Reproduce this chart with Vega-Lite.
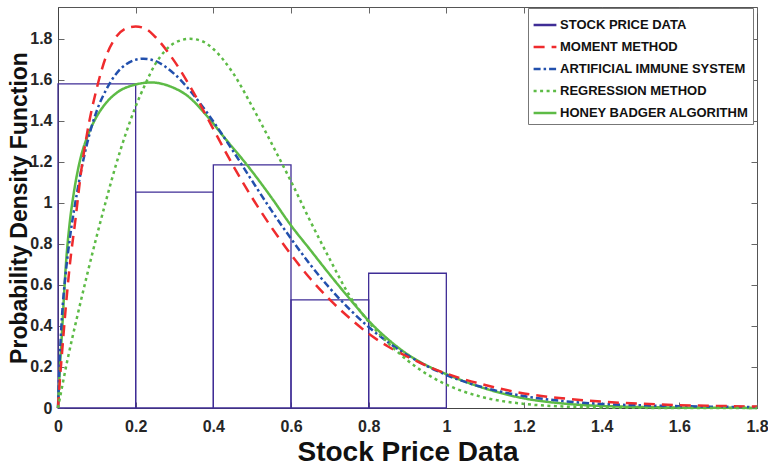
{
  "$schema": "https://vega.github.io/schema/vega-lite/v6.json",
  "width": 699,
  "height": 401,
  "autosize": {"type": "none"},
  "padding": {"left": 58, "top": 7, "right": 11, "bottom": 63},
  "background": "white",
  "config": {
    "font": "Liberation Sans, Arial",
    "view": {"stroke": "#555555", "strokeWidth": 1},
    "axis": {
      "grid": false,
      "labelFont": "Liberation Sans, Arial",
      "labelFontWeight": "bold",
      "labelFontSize": 16,
      "labelColor": "#262626",
      "domainColor": "#444444",
      "tickColor": "#666666",
      "titleColor": "#111111",
      "labelFlush": false,
      "labelOverlap": false,
      "labelBound": false
    }
  },
  "resolve": {"axis": {"x": "independent", "y": "independent"}},
  "layer": [
    {
      "data": {
        "values": [
          {"x0": 0.0, "x1": 0.2, "h": 1.58, "s": "STOCK PRICE DATA"},
          {"x0": 0.2, "x1": 0.4, "h": 1.052, "s": "STOCK PRICE DATA"},
          {"x0": 0.4, "x1": 0.6, "h": 1.185, "s": "STOCK PRICE DATA"},
          {"x0": 0.6, "x1": 0.8, "h": 0.527, "s": "STOCK PRICE DATA"},
          {"x0": 0.8, "x1": 1.0, "h": 0.657, "s": "STOCK PRICE DATA"}
        ]
      },
      "mark": {"type": "bar", "filled": false, "strokeWidth": 1.3},
      "encoding": {
        "x": {
          "field": "x0", "type": "quantitative",
          "scale": {"domain": [0, 1.8], "nice": false, "zero": false},
          "axis": {
            "orient": "bottom",
            "values": [0, 0.2, 0.4, 0.6, 0.8, 1, 1.2, 1.4, 1.6, 1.8],
            "format": ".1~f",
            "title": "Stock Price Data",
            "titleFont": "Liberation Sans, Arial",
            "titleFontSize": 28,
            "titleFontWeight": "bold",
            "titlePadding": 4,
            "tickSize": -6,
            "labelPadding": 16
          }
        },
        "x2": {"field": "x1"},
        "y": {
          "field": "h", "type": "quantitative",
          "scale": {"domain": [0, 1.955], "nice": false},
          "axis": {
            "orient": "left",
            "values": [0, 0.2, 0.4, 0.6, 0.8, 1, 1.2, 1.4, 1.6, 1.8],
            "format": ".1~f",
            "title": "Probability Density Function",
            "titleFont": "Liberation Sans, Arial",
            "titleFontSize": 23,
            "titleFontWeight": "bold",
            "titlePadding": -2,
            "tickSize": -6,
            "labelPadding": 12
          }
        },
        "y2": {"datum": 0},
        "color": {
          "field": "s", "type": "nominal",
          "scale": {
            "domain": ["STOCK PRICE DATA", "MOMENT METHOD", "ARTIFICIAL IMMUNE SYSTEM", "REGRESSION METHOD", "HONEY BADGER ALGORITHM"],
            "range": ["#3f2d96", "#ef2b2d", "#2250ad", "#5dbb46", "#5dbb46"]
          },
          "legend": {
            "orient": "none",
            "legendX": 470,
            "legendY": 1,
            "title": null,
            "symbolType": "stroke",
            "symbolSize": 520,
            "symbolStrokeWidth": 2.5,
            "labelFont": "Liberation Sans, Arial",
            "labelFontSize": 13,
            "labelFontWeight": "bold",
            "labelColor": "#111111",
            "labelOffset": 2,
            "labelLimit": 400,
            "strokeColor": "#777777",
            "fillColor": "white",
            "padding": 4,
            "rowPadding": 2
          }
        }
      }
    },
    {
      "data": {
        "values": [
          {"s": "HONEY BADGER ALGORITHM", "x": 0, "y": 0},
          {"s": "HONEY BADGER ALGORITHM", "x": 0.005, "y": 0.2},
          {"s": "HONEY BADGER ALGORITHM", "x": 0.01, "y": 0.36},
          {"s": "HONEY BADGER ALGORITHM", "x": 0.02, "y": 0.69},
          {"s": "HONEY BADGER ALGORITHM", "x": 0.03, "y": 0.9},
          {"s": "HONEY BADGER ALGORITHM", "x": 0.04, "y": 1.04},
          {"s": "HONEY BADGER ALGORITHM", "x": 0.057, "y": 1.21},
          {"s": "HONEY BADGER ALGORITHM", "x": 0.075, "y": 1.32},
          {"s": "HONEY BADGER ALGORITHM", "x": 0.095, "y": 1.405},
          {"s": "HONEY BADGER ALGORITHM", "x": 0.125, "y": 1.49},
          {"s": "HONEY BADGER ALGORITHM", "x": 0.15, "y": 1.535},
          {"s": "HONEY BADGER ALGORITHM", "x": 0.2, "y": 1.577},
          {"s": "HONEY BADGER ALGORITHM", "x": 0.24, "y": 1.587},
          {"s": "HONEY BADGER ALGORITHM", "x": 0.29, "y": 1.567},
          {"s": "HONEY BADGER ALGORITHM", "x": 0.336, "y": 1.518},
          {"s": "HONEY BADGER ALGORITHM", "x": 0.383, "y": 1.425},
          {"s": "HONEY BADGER ALGORITHM", "x": 0.43, "y": 1.315},
          {"s": "HONEY BADGER ALGORITHM", "x": 0.49, "y": 1.177},
          {"s": "HONEY BADGER ALGORITHM", "x": 0.55, "y": 1.025},
          {"s": "HONEY BADGER ALGORITHM", "x": 0.6, "y": 0.89},
          {"s": "HONEY BADGER ALGORITHM", "x": 0.65, "y": 0.77},
          {"s": "HONEY BADGER ALGORITHM", "x": 0.7, "y": 0.65},
          {"s": "HONEY BADGER ALGORITHM", "x": 0.75, "y": 0.535},
          {"s": "HONEY BADGER ALGORITHM", "x": 0.8, "y": 0.425},
          {"s": "HONEY BADGER ALGORITHM", "x": 0.85, "y": 0.335},
          {"s": "HONEY BADGER ALGORITHM", "x": 0.9, "y": 0.262},
          {"s": "HONEY BADGER ALGORITHM", "x": 0.95, "y": 0.207},
          {"s": "HONEY BADGER ALGORITHM", "x": 1.0, "y": 0.165},
          {"s": "HONEY BADGER ALGORITHM", "x": 1.1, "y": 0.095},
          {"s": "HONEY BADGER ALGORITHM", "x": 1.2, "y": 0.047},
          {"s": "HONEY BADGER ALGORITHM", "x": 1.3, "y": 0.022},
          {"s": "HONEY BADGER ALGORITHM", "x": 1.4, "y": 0.01},
          {"s": "HONEY BADGER ALGORITHM", "x": 1.5, "y": 0.005},
          {"s": "HONEY BADGER ALGORITHM", "x": 1.6, "y": 0.002},
          {"s": "HONEY BADGER ALGORITHM", "x": 1.7, "y": 0.001},
          {"s": "HONEY BADGER ALGORITHM", "x": 1.8, "y": 0.0005},

          {"s": "ARTIFICIAL IMMUNE SYSTEM", "x": 0, "y": 0},
          {"s": "ARTIFICIAL IMMUNE SYSTEM", "x": 0.005, "y": 0.26},
          {"s": "ARTIFICIAL IMMUNE SYSTEM", "x": 0.01, "y": 0.44},
          {"s": "ARTIFICIAL IMMUNE SYSTEM", "x": 0.02, "y": 0.66},
          {"s": "ARTIFICIAL IMMUNE SYSTEM", "x": 0.03, "y": 0.82},
          {"s": "ARTIFICIAL IMMUNE SYSTEM", "x": 0.05, "y": 1.06},
          {"s": "ARTIFICIAL IMMUNE SYSTEM", "x": 0.075, "y": 1.29},
          {"s": "ARTIFICIAL IMMUNE SYSTEM", "x": 0.1, "y": 1.45},
          {"s": "ARTIFICIAL IMMUNE SYSTEM", "x": 0.125, "y": 1.555},
          {"s": "ARTIFICIAL IMMUNE SYSTEM", "x": 0.15, "y": 1.63},
          {"s": "ARTIFICIAL IMMUNE SYSTEM", "x": 0.175, "y": 1.675},
          {"s": "ARTIFICIAL IMMUNE SYSTEM", "x": 0.2, "y": 1.698},
          {"s": "ARTIFICIAL IMMUNE SYSTEM", "x": 0.22, "y": 1.703},
          {"s": "ARTIFICIAL IMMUNE SYSTEM", "x": 0.25, "y": 1.692},
          {"s": "ARTIFICIAL IMMUNE SYSTEM", "x": 0.3, "y": 1.628},
          {"s": "ARTIFICIAL IMMUNE SYSTEM", "x": 0.35, "y": 1.524},
          {"s": "ARTIFICIAL IMMUNE SYSTEM", "x": 0.4, "y": 1.397},
          {"s": "ARTIFICIAL IMMUNE SYSTEM", "x": 0.45, "y": 1.255},
          {"s": "ARTIFICIAL IMMUNE SYSTEM", "x": 0.5, "y": 1.107},
          {"s": "ARTIFICIAL IMMUNE SYSTEM", "x": 0.55, "y": 0.962},
          {"s": "ARTIFICIAL IMMUNE SYSTEM", "x": 0.6, "y": 0.826},
          {"s": "ARTIFICIAL IMMUNE SYSTEM", "x": 0.65, "y": 0.698},
          {"s": "ARTIFICIAL IMMUNE SYSTEM", "x": 0.7, "y": 0.584},
          {"s": "ARTIFICIAL IMMUNE SYSTEM", "x": 0.75, "y": 0.483},
          {"s": "ARTIFICIAL IMMUNE SYSTEM", "x": 0.8, "y": 0.395},
          {"s": "ARTIFICIAL IMMUNE SYSTEM", "x": 0.9, "y": 0.257},
          {"s": "ARTIFICIAL IMMUNE SYSTEM", "x": 1.0, "y": 0.161},
          {"s": "ARTIFICIAL IMMUNE SYSTEM", "x": 1.1, "y": 0.098},
          {"s": "ARTIFICIAL IMMUNE SYSTEM", "x": 1.2, "y": 0.058},
          {"s": "ARTIFICIAL IMMUNE SYSTEM", "x": 1.3, "y": 0.034},
          {"s": "ARTIFICIAL IMMUNE SYSTEM", "x": 1.4, "y": 0.02},
          {"s": "ARTIFICIAL IMMUNE SYSTEM", "x": 1.5, "y": 0.013},
          {"s": "ARTIFICIAL IMMUNE SYSTEM", "x": 1.6, "y": 0.009},
          {"s": "ARTIFICIAL IMMUNE SYSTEM", "x": 1.7, "y": 0.006},
          {"s": "ARTIFICIAL IMMUNE SYSTEM", "x": 1.8, "y": 0.005},

          {"s": "MOMENT METHOD", "x": 0, "y": 0},
          {"s": "MOMENT METHOD", "x": 0.005, "y": 0.14},
          {"s": "MOMENT METHOD", "x": 0.01, "y": 0.26},
          {"s": "MOMENT METHOD", "x": 0.02, "y": 0.49},
          {"s": "MOMENT METHOD", "x": 0.03, "y": 0.69},
          {"s": "MOMENT METHOD", "x": 0.045, "y": 0.92},
          {"s": "MOMENT METHOD", "x": 0.06, "y": 1.16},
          {"s": "MOMENT METHOD", "x": 0.075, "y": 1.34},
          {"s": "MOMENT METHOD", "x": 0.1, "y": 1.56},
          {"s": "MOMENT METHOD", "x": 0.125, "y": 1.72},
          {"s": "MOMENT METHOD", "x": 0.15, "y": 1.81},
          {"s": "MOMENT METHOD", "x": 0.175, "y": 1.85},
          {"s": "MOMENT METHOD", "x": 0.2, "y": 1.86},
          {"s": "MOMENT METHOD", "x": 0.225, "y": 1.85},
          {"s": "MOMENT METHOD", "x": 0.25, "y": 1.81},
          {"s": "MOMENT METHOD", "x": 0.3, "y": 1.69},
          {"s": "MOMENT METHOD", "x": 0.35, "y": 1.535},
          {"s": "MOMENT METHOD", "x": 0.4, "y": 1.36},
          {"s": "MOMENT METHOD", "x": 0.45, "y": 1.185},
          {"s": "MOMENT METHOD", "x": 0.5, "y": 1.025},
          {"s": "MOMENT METHOD", "x": 0.55, "y": 0.88},
          {"s": "MOMENT METHOD", "x": 0.6, "y": 0.748},
          {"s": "MOMENT METHOD", "x": 0.65, "y": 0.63},
          {"s": "MOMENT METHOD", "x": 0.7, "y": 0.528},
          {"s": "MOMENT METHOD", "x": 0.75, "y": 0.44},
          {"s": "MOMENT METHOD", "x": 0.8, "y": 0.362},
          {"s": "MOMENT METHOD", "x": 0.85, "y": 0.3},
          {"s": "MOMENT METHOD", "x": 0.9, "y": 0.25},
          {"s": "MOMENT METHOD", "x": 0.95, "y": 0.205},
          {"s": "MOMENT METHOD", "x": 1.0, "y": 0.168},
          {"s": "MOMENT METHOD", "x": 1.1, "y": 0.112},
          {"s": "MOMENT METHOD", "x": 1.2, "y": 0.071},
          {"s": "MOMENT METHOD", "x": 1.3, "y": 0.047},
          {"s": "MOMENT METHOD", "x": 1.4, "y": 0.031},
          {"s": "MOMENT METHOD", "x": 1.5, "y": 0.021},
          {"s": "MOMENT METHOD", "x": 1.6, "y": 0.014},
          {"s": "MOMENT METHOD", "x": 1.7, "y": 0.01},
          {"s": "MOMENT METHOD", "x": 1.8, "y": 0.007},

          {"s": "REGRESSION METHOD", "x": 0, "y": 0},
          {"s": "REGRESSION METHOD", "x": 0.025, "y": 0.24},
          {"s": "REGRESSION METHOD", "x": 0.05, "y": 0.45},
          {"s": "REGRESSION METHOD", "x": 0.075, "y": 0.65},
          {"s": "REGRESSION METHOD", "x": 0.1, "y": 0.84},
          {"s": "REGRESSION METHOD", "x": 0.125, "y": 1.02},
          {"s": "REGRESSION METHOD", "x": 0.15, "y": 1.19},
          {"s": "REGRESSION METHOD", "x": 0.175, "y": 1.34},
          {"s": "REGRESSION METHOD", "x": 0.2, "y": 1.47},
          {"s": "REGRESSION METHOD", "x": 0.225, "y": 1.58},
          {"s": "REGRESSION METHOD", "x": 0.25, "y": 1.675},
          {"s": "REGRESSION METHOD", "x": 0.275, "y": 1.74},
          {"s": "REGRESSION METHOD", "x": 0.3, "y": 1.78},
          {"s": "REGRESSION METHOD", "x": 0.34, "y": 1.8},
          {"s": "REGRESSION METHOD", "x": 0.375, "y": 1.785},
          {"s": "REGRESSION METHOD", "x": 0.4, "y": 1.75},
          {"s": "REGRESSION METHOD", "x": 0.45, "y": 1.635},
          {"s": "REGRESSION METHOD", "x": 0.5, "y": 1.47},
          {"s": "REGRESSION METHOD", "x": 0.55, "y": 1.29},
          {"s": "REGRESSION METHOD", "x": 0.6, "y": 1.105},
          {"s": "REGRESSION METHOD", "x": 0.65, "y": 0.91},
          {"s": "REGRESSION METHOD", "x": 0.7, "y": 0.725},
          {"s": "REGRESSION METHOD", "x": 0.75, "y": 0.55},
          {"s": "REGRESSION METHOD", "x": 0.8, "y": 0.42},
          {"s": "REGRESSION METHOD", "x": 0.85, "y": 0.318},
          {"s": "REGRESSION METHOD", "x": 0.9, "y": 0.232},
          {"s": "REGRESSION METHOD", "x": 0.95, "y": 0.165},
          {"s": "REGRESSION METHOD", "x": 1.0, "y": 0.114},
          {"s": "REGRESSION METHOD", "x": 1.1, "y": 0.05},
          {"s": "REGRESSION METHOD", "x": 1.2, "y": 0.02},
          {"s": "REGRESSION METHOD", "x": 1.3, "y": 0.0075},
          {"s": "REGRESSION METHOD", "x": 1.4, "y": 0.0025},
          {"s": "REGRESSION METHOD", "x": 1.5, "y": 0.0008},
          {"s": "REGRESSION METHOD", "x": 1.6, "y": 0.0002},
          {"s": "REGRESSION METHOD", "x": 1.8, "y": 0}
        ]
      },
      "mark": {"type": "line", "interpolate": "monotone", "strokeWidth": 2.5, "strokeCap": "butt"},
      "encoding": {
        "x": {
          "field": "x", "type": "quantitative",
          "axis": {
            "orient": "top",
            "values": [0, 0.2, 0.4, 0.6, 0.8, 1, 1.2, 1.4, 1.6, 1.8],
            "labels": false, "title": null, "domain": false, "tickSize": -6
          }
        },
        "y": {
          "field": "y", "type": "quantitative",
          "axis": {
            "orient": "right",
            "values": [0, 0.2, 0.4, 0.6, 0.8, 1, 1.2, 1.4, 1.6, 1.8],
            "labels": false, "title": null, "domain": false, "tickSize": -6
          }
        },
        "color": {"field": "s", "type": "nominal"},
        "strokeDash": {
          "field": "s", "type": "nominal",
          "scale": {
            "domain": ["STOCK PRICE DATA", "MOMENT METHOD", "ARTIFICIAL IMMUNE SYSTEM", "REGRESSION METHOD", "HONEY BADGER ALGORITHM"],
            "range": [[1, 0], [11, 7], [7, 3, 2.5, 3], [3, 3.5], [1, 0]]
          }
        }
      }
    }
  ]
}
